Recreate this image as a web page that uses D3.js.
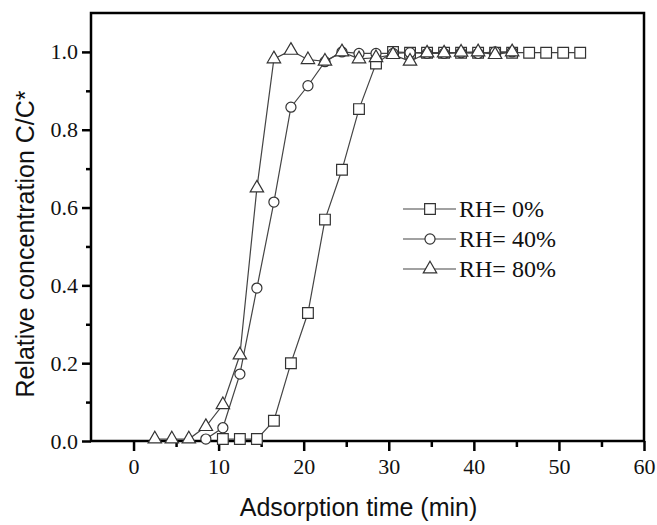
<!DOCTYPE html>
<html>
<head>
<meta charset="utf-8">
<script src="https://d3js.org/d3.v7.min.js"></script>
<style>
  body { margin: 0; background: #fff; }
</style>
</head>
<body>
<div id="my_dataviz"></div>
<script>

    // adsorption times (min) for each series
    var timeRH0 = [10.5, 12.5, 14.5, 16.5, 18.5, 20.5, 22.5, 24.5, 26.5, 28.5, 30.5, 32.5, 34.5, 36.5, 38.5, 40.5, 42.5, 44.5, 46.5, 48.5, 50.5, 52.5];
    var valRH0 = [0.005, 0.005, 0.005, 0.052, 0.200, 0.329, 0.569, 0.697, 0.853, 0.970, 1.000, 0.998, 0.998, 0.998, 0.998, 0.998, 0.998, 0.998, 0.998, 0.998, 0.998, 0.998];

    var timeRH40 = [8.5, 10.5, 12.5, 14.5, 16.5, 18.5, 20.5, 22.5, 24.5, 26.5, 28.5, 30.5, 32.5, 34.5, 36.5, 38.5, 40.5, 42.5, 44.5];
    var valRH40 = [0.005, 0.034, 0.172, 0.393, 0.614, 0.858, 0.913, 0.975, 1.000, 0.996, 0.996, 0.996, 0.998, 0.996, 0.996, 0.998, 0.996, 1.000, 1.000];

    var timeRH80 = [2.5, 4.5, 6.5, 8.5, 10.5, 12.5, 14.5, 16.5, 18.5, 20.5, 22.5, 24.5, 26.5, 28.5, 30.5, 32.5, 34.5, 36.5, 38.5, 40.5, 42.5, 44.5];
    var valRH80 = [0.005, 0.005, 0.005, 0.037, 0.093, 0.221, 0.650, 0.982, 1.004, 0.980, 0.976, 1.000, 0.982, 0.985, 0.993, 0.976, 0.997, 0.997, 0.999, 1.000, 0.993, 1.000];

    var seriesNames = ["RH= 0%", "RH= 40%", "RH= 80%"];
    var xMajor = [0, 10, 20, 30, 40, 50, 60];
    var xMinor = [5, 15, 25, 35, 45, 55];
    var yMajor = [0.0, 0.2, 0.4, 0.6, 0.8, 1.0];
    var yMinor = [0.1, 0.3, 0.5, 0.7, 0.9];

    // set the dimensions and margins of the graph
    var margin = { top: 13, right: 13, bottom: 84, left: 91 },
        width = 657 - margin.left - margin.right,
        height = 525 - margin.top - margin.bottom;

    var svg = d3.select("#my_dataviz")
        .append("svg")
        .attr("width", 657)
        .attr("height", 525)
        .append("g")
        .attr("transform", "translate(" + margin.left + "," + margin.top + ")");

    var x = d3.scaleLinear().domain([-5, 60]).range([0, width]);
    var y = d3.scaleLinear().domain([0, 1.1]).range([height, 0]);

    var serif = "'Liberation Serif', 'Times New Roman', serif";
    var sans = "'Liberation Sans', Arial, sans-serif";

    // axes: major + minor ticks
    svg.append("g")
        .attr("transform", "translate(0," + height + ")")
        .call(d3.axisBottom(x).tickValues(xMajor).tickSize(10).tickPadding(7).tickFormat(d3.format("d")));
    svg.append("g")
        .attr("transform", "translate(0," + height + ")")
        .call(d3.axisBottom(x).tickValues(xMinor).tickSize(6).tickFormat(""));
    svg.append("g")
        .call(d3.axisLeft(y).tickValues(yMajor).tickSize(9).tickPadding(4).tickFormat(d3.format(".1f")));
    svg.append("g")
        .call(d3.axisLeft(y).tickValues(yMinor).tickSize(5).tickFormat(""));

    svg.selectAll(".domain").remove();
    svg.selectAll(".tick line").attr("stroke", "#000").attr("stroke-width", 2.5);
    svg.selectAll(".tick text")
        .attr("fill", "#111")
        .style("font-family", serif)
        .style("font-size", "22px");

    // frame
    svg.append("rect")
        .attr("x", 0).attr("y", 0)
        .attr("width", width).attr("height", height)
        .attr("fill", "none")
        .attr("stroke", "#000")
        .attr("stroke-width", 2.5);

    var series = [
        { name: seriesNames[0], t: timeRH0, v: valRH0, sym: d3.symbolSquare, size: 115 },
        { name: seriesNames[1], t: timeRH40, v: valRH40, sym: d3.symbolCircle, size: 80 },
        { name: seriesNames[2], t: timeRH80, v: valRH80, sym: d3.symbolTriangle, size: 78 }
    ];

    var line = d3.line()
        .x(function (d) { return x(d[0]); })
        .y(function (d) { return y(d[1]); });

    series.forEach(function (s) {
        var pts = s.t.map(function (t, i) { return [t, s.v[i]]; });
        svg.append("path")
            .datum(pts)
            .attr("fill", "none")
            .attr("stroke", "#444")
            .attr("stroke-width", 1.2)
            .attr("d", line);
    });

    series.forEach(function (s) {
        var pts = s.t.map(function (t, i) { return [t, s.v[i]]; });
        svg.selectAll(null)
            .data(pts)
            .enter()
            .append("path")
            .attr("transform", function (d) { return "translate(" + x(d[0]) + "," + y(d[1]) + ")"; })
            .attr("d", d3.symbol().type(s.sym).size(s.size))
            .attr("fill", "#fff")
            .attr("stroke", "#333")
            .attr("stroke-width", 1.2);
    });

    // legend
    var legend = svg.append("g")
        .attr("transform", "translate(" + (403 - margin.left) + "," + (209 - margin.top) + ")");
    series.forEach(function (s, i) {
        var row = legend.append("g").attr("transform", "translate(0," + (i * 30) + ")");
        row.append("line")
            .attr("x1", 0).attr("x2", 53)
            .attr("y1", 0).attr("y2", 0)
            .attr("stroke", "#444").attr("stroke-width", 1.2);
        row.append("path")
            .attr("transform", "translate(27,0)")
            .attr("d", d3.symbol().type(s.sym).size(s.size))
            .attr("fill", "#fff")
            .attr("stroke", "#333")
            .attr("stroke-width", 1.2);
        row.append("text")
            .attr("x", 56)
            .attr("y", 8)
            .style("font-family", serif)
            .style("font-size", "24px")
            .attr("fill", "#111")
            .text(s.name);
    });

    // axis titles
    svg.append("text")
        .attr("x", x(-5) + width / 2 - 9)
        .attr("y", height + 75)
        .attr("text-anchor", "middle")
        .style("font-family", sans)
        .style("font-size", "25px")
        .attr("fill", "#111")
        .text("Adsorption time (min)");

    svg.append("text")
        .attr("transform", "translate(" + (34 - margin.left) + "," + (244 - margin.top) + ") rotate(-90)")
        .attr("text-anchor", "middle")
        .style("font-family", sans)
        .style("font-size", "25px")
        .attr("fill", "#111")
        .text("Relative concentration C/C*");

</script>
</body>
</html>
